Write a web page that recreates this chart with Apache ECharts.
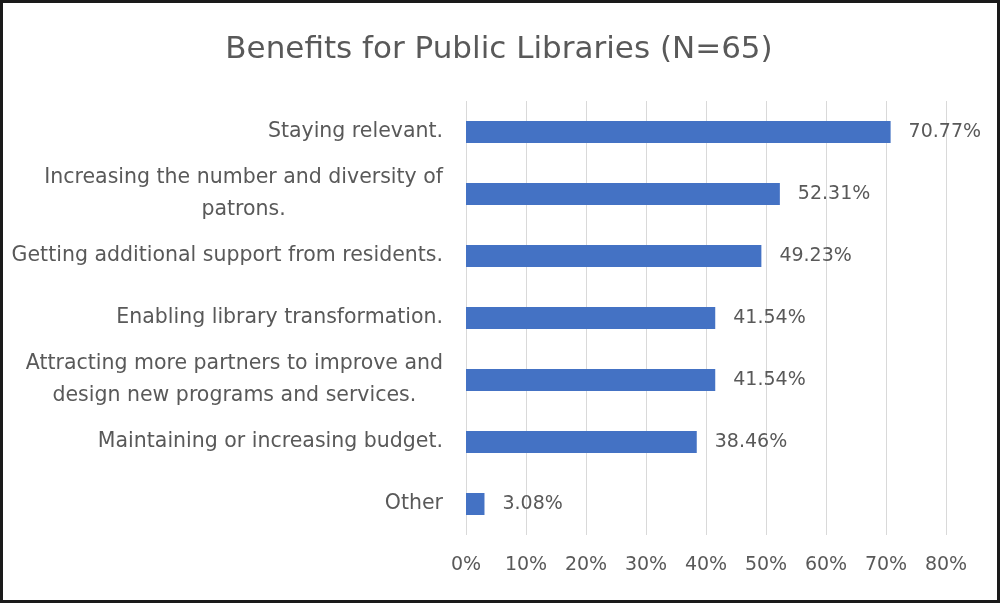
<!DOCTYPE html>
<html>
<head>
<meta charset="utf-8">
<title>Benefits for Public Libraries (N=65)</title>
<script src="https://cdn.jsdelivr.net/npm/echarts@6/dist/echarts.min.js"></script>
<style>
  html, body { margin: 0; padding: 0; background: #ffffff; }
  #chart { width: 1001px; height: 604px; }
</style>
</head>
<body>
<div id="chart"></div>
<script>
// Survey answers, top to bottom
const categories = [
  'Staying relevant.',
  'Increasing the number and diversity of\npatrons.',
  'Getting additional support from residents.',
  'Enabling library transformation.',
  'Attracting more partners to improve and\ndesign new programs and services.',
  'Maintaining or increasing budget.',
  'Other'
];
// Share of respondents (%)
const values = [70.77, 52.31, 49.23, 41.54, 41.54, 38.46, 3.08];
// Percentage axis ticks
const axisMin = 0;
const axisMax = 80;
const axisStep = 10;

const FONT = 'DejaVu Sans';
const GREY = '#595959';

const chart = echarts.init(document.getElementById('chart'), null, { renderer: 'canvas' });

chart.setOption({
  backgroundColor: '#ffffff',
  animation: false,
  title: {
    text: 'Benefits for Public Libraries (N=65)',
    left: 494,
    top: 28,
    textAlign: 'center',
    textStyle: { fontFamily: FONT, fontSize: 31, fontWeight: 'normal', color: GREY, lineHeight: 33 }
  },
  graphic: [{
    type: 'rect',
    shape: { x: 1.5, y: 1.5, width: 997, height: 600 },
    style: { fill: 'none', stroke: '#1a1a1a', lineWidth: 3 },
    silent: true
  }],
  grid: { left: 466, right: 55, top: 101, bottom: 69, containLabel: false },
  xAxis: {
    type: 'value',
    min: axisMin,
    max: axisMax,
    interval: axisStep,
    axisLine: { show: false },
    axisTick: { show: false },
    axisLabel: {
      formatter: '{value}%',
      fontFamily: FONT, fontSize: 19, color: GREY, margin: 21
    },
    splitLine: { lineStyle: { color: '#d9d9d9', width: 1 } }
  },
  yAxis: {
    type: 'category',
    data: categories,
    inverse: true,
    axisLine: { show: false },
    axisTick: { show: false },
    axisLabel: {
      margin: 23,
      fontFamily: FONT, fontSize: 20.5, color: GREY,
      formatter: function (v) {
        return v.split('\n').map(function (s) { return '{c|' + s + '}'; }).join('\n');
      },
      rich: {
        c: { align: 'center', fontFamily: FONT, fontSize: 20.5, color: GREY, lineHeight: 32 }
      }
    }
  },
  series: [{
    type: 'bar',
    data: values,
    barWidth: 22,
    itemStyle: { color: '#4472C4' },
    label: {
      show: true,
      position: 'right',
      distance: 18,
      fontFamily: FONT, fontSize: 19, color: GREY,
      formatter: function (p) { return p.value.toFixed(2) + '%'; }
    }
  }]
});
</script>
</body>
</html>
